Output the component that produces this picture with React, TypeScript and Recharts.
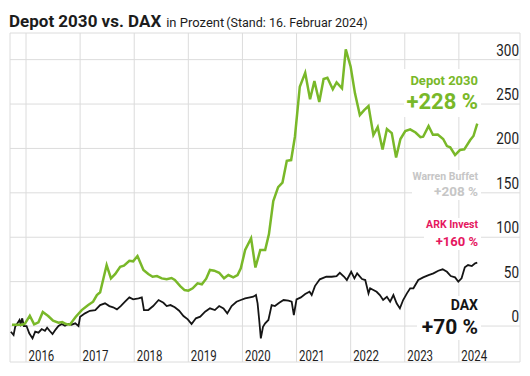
import { CartesianGrid, Line, LineChart, XAxis, YAxis } from "recharts";

// [decimal year, percent]
const depot2030: [number, number][] = [
  [2015.74, 1.5], [2015.93, 1.5], [2015.98, 2.8], [2016.07, 11.6], [2016.15, 1.9],
  [2016.23, 4.2], [2016.31, 15.8], [2016.41, 11.3], [2016.5, 6.0], [2016.6, 3.7],
  [2016.67, 4.5], [2016.74, 2.3], [2016.81, 1.5], [2016.92, 10.5], [2017.03, 18],
  [2017.15, 23.6], [2017.24, 27.4], [2017.31, 34.9], [2017.37, 38], [2017.49, 68.7],
  [2017.57, 53.7], [2017.65, 58.6], [2017.74, 66.8], [2017.81, 67.9], [2017.91, 73.5],
  [2017.98, 72.9], [2018.06, 78.8], [2018.17, 63.1], [2018.26, 58.6], [2018.34, 55.5],
  [2018.42, 56.3], [2018.51, 53.7], [2018.6, 52.6], [2018.69, 54.1], [2018.75, 51.8],
  [2018.85, 45], [2018.93, 40.5], [2019.0, 39.8], [2019.08, 42.5], [2019.17, 48.1],
  [2019.25, 47], [2019.33, 53.3], [2019.4, 63.1], [2019.48, 62.3], [2019.57, 60],
  [2019.66, 53.7], [2019.74, 57.4], [2019.83, 54.8], [2019.91, 57.4], [2019.97, 65],
  [2020.05, 85.6], [2020.16, 98.8], [2020.24, 65.9], [2020.33, 85.6], [2020.42, 85.6],
  [2020.49, 103.6], [2020.57, 140.8], [2020.66, 156.5], [2020.74, 161.6], [2020.82, 186.1],
  [2020.9, 186.9], [2020.97, 213.2], [2021.06, 269.5], [2021.16, 285.2], [2021.25, 255.3],
  [2021.33, 275.9], [2021.42, 252.3], [2021.5, 278.2], [2021.57, 279.6], [2021.67, 266.6],
  [2021.74, 274.4], [2021.84, 267.7], [2021.91, 311.6], [2022.0, 292], [2022.08, 262],
  [2022.17, 237.6], [2022.25, 243.2], [2022.33, 247.7], [2022.42, 215.1], [2022.5, 224.1],
  [2022.59, 198.8], [2022.67, 221.8], [2022.76, 217.3], [2022.84, 189.8], [2022.92, 210.6],
  [2023.01, 219.6], [2023.1, 221.5], [2023.2, 217.9], [2023.29, 212.6], [2023.34, 213.2],
  [2023.44, 225.2], [2023.52, 215.4], [2023.61, 215.7], [2023.71, 210.6], [2023.78, 202.7],
  [2023.84, 201.2], [2023.93, 192.6], [2024.02, 198.2], [2024.1, 199], [2024.21, 209.5],
  [2024.27, 214], [2024.34, 228],
];

const dax: [number, number][] = [
  [2015.72, -6.4], [2015.77, -10.1], [2015.8, -0.8], [2015.84, 3], [2015.88, 6.8],
  [2015.9, 2.3], [2015.93, 8.7], [2015.96, 0], [2016.01, 0], [2016.06, -8.2],
  [2016.12, -13.9], [2016.17, -6.4], [2016.23, -7.5], [2016.29, -3.4], [2016.35, -5.3],
  [2016.39, -1.9], [2016.44, -5.6], [2016.49, -9], [2016.55, -3.7], [2016.6, 0],
  [2016.66, 2.3], [2016.72, 0.3], [2016.78, 2.3], [2016.84, 1.5], [2016.91, 3],
  [2016.97, 0], [2017.0, 10.5], [2017.09, 14.3], [2017.18, 17.2], [2017.28, 18],
  [2017.37, 23.6], [2017.46, 25.6], [2017.54, 22.5], [2017.61, 21.1], [2017.68, 18.8],
  [2017.75, 22.5], [2017.83, 27.4], [2017.91, 32.3], [2017.98, 30.1], [2018.08, 31.2],
  [2018.14, 32.3], [2018.18, 18], [2018.26, 18], [2018.35, 22.5], [2018.45, 29.3],
  [2018.54, 26.2], [2018.6, 22.5], [2018.67, 23.6], [2018.75, 21.1], [2018.83, 17.2],
  [2018.91, 11.3], [2018.99, 7.5], [2019.06, 2.3], [2019.14, 8.7], [2019.22, 10.5],
  [2019.31, 16.1], [2019.4, 19.9], [2019.49, 18], [2019.57, 22.5], [2019.65, 19.9],
  [2019.72, 14.3], [2019.8, 22.5], [2019.89, 27.4], [2019.97, 29.3], [2020.05, 31.2],
  [2020.14, 32.3], [2020.2, 33], [2020.25, 34.9], [2020.28, 25.6], [2020.31, 6.8],
  [2020.34, -13.9], [2020.38, -0.8], [2020.42, 3], [2020.48, 6.8], [2020.54, 23.6],
  [2020.6, 22.5], [2020.68, 26.2], [2020.76, 29.3], [2020.85, 28.5], [2020.91, 27.4],
  [2020.95, 12.4], [2021.0, 30.1], [2021.08, 32.3], [2021.16, 36], [2021.24, 38.6],
  [2021.28, 34.9], [2021.34, 45], [2021.43, 52.6], [2021.55, 55.5], [2021.65, 55.5],
  [2021.74, 56.3], [2021.8, 60], [2021.88, 55.5], [2021.93, 51.8], [2022.01, 61.1],
  [2022.07, 53.7], [2022.12, 59.3], [2022.21, 52.9], [2022.27, 51.8], [2022.33, 36.8],
  [2022.36, 42.5], [2022.42, 40.5], [2022.48, 38.6], [2022.54, 34.9], [2022.6, 29.3],
  [2022.67, 33], [2022.73, 27.4], [2022.79, 34.9], [2022.85, 25.6], [2022.91, 19.9],
  [2022.97, 29.3], [2023.04, 36.8], [2023.1, 42.5], [2023.16, 42.5], [2023.25, 51.8],
  [2023.34, 54.8], [2023.44, 57.4], [2023.53, 59.3], [2023.62, 62.3], [2023.7, 63.9],
  [2023.78, 61.1], [2023.85, 56.3], [2023.93, 54.8], [2023.99, 49.9], [2024.05, 53.7],
  [2024.11, 66.1], [2024.17, 68.7], [2024.24, 67.6], [2024.3, 70.6], [2024.34, 71.3],
];

const yearTicks = [2016, 2017, 2018, 2019, 2020, 2021, 2022, 2023, 2024];
const valueTicks = [0, 50, 100, 150, 200, 250, 300];
const xDomain: [number, number] = [2015.704, 2025.13];
const yDomain: [number, number] = [-40.5, 330];

const GREEN = "#79b829";
const PINK = "#e5175f";
const GREY = "#c6c6c6";
const INK = "#151515";
const GRID = "#dcdcdc";

type Block = {
  color: string;
  box: [number, number, number, number]; // left, top, right, bottom
  lines: { text: string; size: number; baseline: number }[];
};

const labels: Block[] = [
  {
    color: GREEN,
    box: [404, 69, 481, 117],
    lines: [
      { text: "Depot 2030", size: 13, baseline: 85 },
      { text: "+228 %", size: 22, baseline: 110 },
    ],
  },
  {
    color: GREY,
    box: [412, 170, 481, 200],
    lines: [
      { text: "Warren Buffet", size: 10.5, baseline: 180.7 },
      { text: "+208 %", size: 13.5, baseline: 196.7 },
    ],
  },
  {
    color: PINK,
    box: [424, 218, 481, 250],
    lines: [
      { text: "ARK Invest", size: 10.5, baseline: 229.3 },
      { text: "+160 %", size: 13, baseline: 245.7 },
    ],
  },
  {
    color: INK,
    box: [417, 296, 481, 340],
    lines: [
      { text: "DAX", size: 14, baseline: 309.3 },
      { text: "+70 %", size: 21, baseline: 334.3 },
    ],
  },
];

function YearTick(props: any) {
  const { x, y, payload } = props;
  if (!Number.isInteger(payload.value)) return null;
  return (
    <text
      transform={`translate(${x + 2.5},${y - 1.5}) scale(0.74,1)`}
      fontSize={15.5}
      fill="#1e1e1e"
    >
      {payload.value}
    </text>
  );
}

function ValueTick(props: any) {
  const { x, y, payload } = props;
  return (
    <text
      transform={`translate(${x - 1},${y - 4}) scale(0.82,1)`}
      fontSize={16.5}
      fill="#1e1e1e"
      textAnchor="end"
    >
      {payload.value}
    </text>
  );
}

export default function App() {
  const depotData = depot2030.map(([t, v]) => ({ t, v }));
  const daxData = dax.map(([t, v]) => ({ t, v }));

  return (
    <div
      style={{
        position: "fixed",
        left: 0,
        top: 0,
        width: 530,
        height: 376,
        background: "#fff",
        fontFamily: "Roboto, sans-serif",
      }}
    >
      <div
        style={{
          position: "absolute",
          left: 9,
          top: 13,
          fontSize: 17,
          lineHeight: "17px",
          color: "#1c1c1c",
          whiteSpace: "nowrap",
        }}
      >
        <span style={{ fontWeight: 700 }}>Depot 2030 vs. DAX</span>
        <span style={{ fontSize: 13, marginLeft: 5 }}>in Prozent</span>
        <span style={{ fontSize: 12.5, marginLeft: 2 }}>(Stand: 16. Februar 2024)</span>
      </div>

      <div style={{ position: "absolute", left: 0, top: 0 }}>
        <LineChart width={530} height={376} margin={{ top: 33, right: 0, bottom: 0, left: 10 }}>
          <CartesianGrid xAxisId="t" yAxisId="v" stroke={GRID} strokeWidth={1} />
          <XAxis
            xAxisId="t"
            type="number"
            dataKey="t"
            domain={xDomain}
            allowDataOverflow
            ticks={[xDomain[0], ...yearTicks]}
            interval={0}
            height={14}
            tickSize={0}
            tickMargin={0}
            axisLine={false}
            tickLine={false}
            tick={YearTick}
          />
          <YAxis
            yAxisId="v"
            orientation="right"
            type="number"
            domain={yDomain}
            allowDataOverflow
            ticks={valueTicks}
            interval={0}
            width={10}
            tickSize={0}
            tickMargin={0}
            axisLine={false}
            tickLine={false}
            tick={ValueTick}
          />
          <Line
            xAxisId="t"
            yAxisId="v"
            data={daxData}
            dataKey="v"
            type="linear"
            stroke={INK}
            strokeWidth={1.8}
            dot={false}
            isAnimationActive={false}
          />
          <Line
            xAxisId="t"
            yAxisId="v"
            data={depotData}
            dataKey="v"
            type="linear"
            stroke={GREEN}
            strokeWidth={2.5}
            dot={false}
            isAnimationActive={false}
          />
        </LineChart>
      </div>

      {labels.map((b, i) => (
        <div key={i}>
          <div
            style={{
              position: "absolute",
              left: b.box[0],
              top: b.box[1],
              width: b.box[2] - b.box[0],
              height: b.box[3] - b.box[1],
              background: "#fff",
            }}
          />
          {b.lines.map((l, j) => (
            <div
              key={j}
              style={{
                position: "absolute",
                right: 530 - 478,
                top: l.baseline - 0.842 * l.size,
                fontSize: l.size,
                lineHeight: `${l.size}px`,
                fontWeight: 700,
                color: b.color,
                whiteSpace: "nowrap",
              }}
            >
              {l.text}
            </div>
          ))}
        </div>
      ))}
    </div>
  );
}
